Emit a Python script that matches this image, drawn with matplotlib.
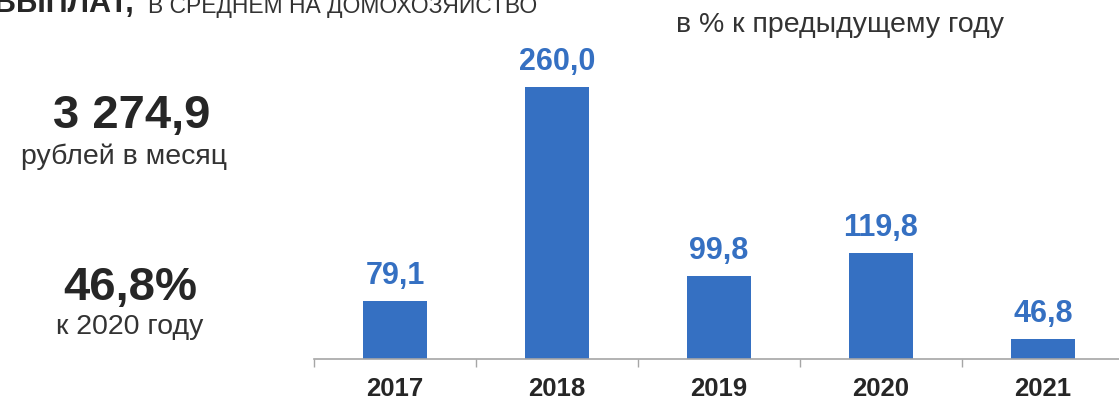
"""Доходы домохозяйства: столбцы в % к предыдущему году."""

import matplotlib

matplotlib.use("Agg")
import matplotlib.pyplot as plt

plt.rcParams["font.family"] = ["Liberation Sans", "DejaVu Sans"]

# данные
years = ["2017", "2018", "2019", "2020", "2021"]
values = [79.1, 260.0, 99.8, 119.8, 46.8]
total_value = "3 274,9"
total_unit = "рублей в месяц"
change_value = "46,8%"
change_note = "к 2020 году"
subtitle = "в % к предыдущему году"
header_bold = "ВЫПЛАТ,"
header_light = "В СРЕДНЕМ НА ДОМОХОЗЯЙСТВО"

W, H = 1119, 402
BLUE = "#3570c2"
DARK = "#262626"
GREY = "#a6a6a6"


def px(x, y):
    return x / W, 1 - y / H


fig = plt.figure(figsize=(W / 100, H / 100), dpi=100)
ax = fig.add_axes([314 / W, 42 / H, 810 / W, 360 / H])

x = list(range(len(years)))
ax.bar(x, values, width=0.40, color=BLUE, zorder=2)
ax.set_xlim(-0.5, len(years) - 0.5)
ax.set_ylim(29.7, 334.8)

for i, v in zip(x, values):
    ax.annotate(f"{v:.1f}".replace(".", ","), xy=(i, v), xytext=(0, 13),
                textcoords="offset points", ha="center", va="baseline",
                fontsize=22, fontweight="bold", color=BLUE)

for side in ["left", "top", "right"]:
    ax.spines[side].set_visible(False)
ax.spines["bottom"].set_color(GREY)
ax.spines["bottom"].set_linewidth(1.2)
ax.set_yticks([])
ax.set_xticks(x)
ax.set_xticklabels(years, fontsize=18.5, fontweight="bold", color=DARK)
ax.tick_params(axis="x", which="major", length=0, pad=12)
ax.set_xticks([i - 0.5 for i in range(len(years) + 1)], minor=True)
ax.tick_params(axis="x", which="minor", length=6, width=1, color=GREY, direction="out")

# текст слева и сверху
fig.text(*px(132, 128), total_value, ha="center", va="baseline",
         fontsize=34, fontweight="bold", color=DARK)
fig.text(*px(124, 164), total_unit, ha="center", va="baseline",
         fontsize=20.5, color="#333333")
fig.text(*px(130, 300), change_value, ha="center", va="baseline",
         fontsize=34, fontweight="bold", color=DARK)
fig.text(*px(130, 334), change_note, ha="center", va="baseline",
         fontsize=20.5, color="#333333")
fig.text(*px(840, 32), subtitle, ha="center", va="baseline",
         fontsize=20.5, color="#333333")
fig.text(*px(134, 12), header_bold, ha="right", va="baseline",
         fontsize=22, fontweight="bold", color=DARK)
fig.text(*px(148, 13), header_light, ha="left", va="baseline",
         fontsize=16.5, color="#333333")

fig.savefig("out.png", dpi=100)
